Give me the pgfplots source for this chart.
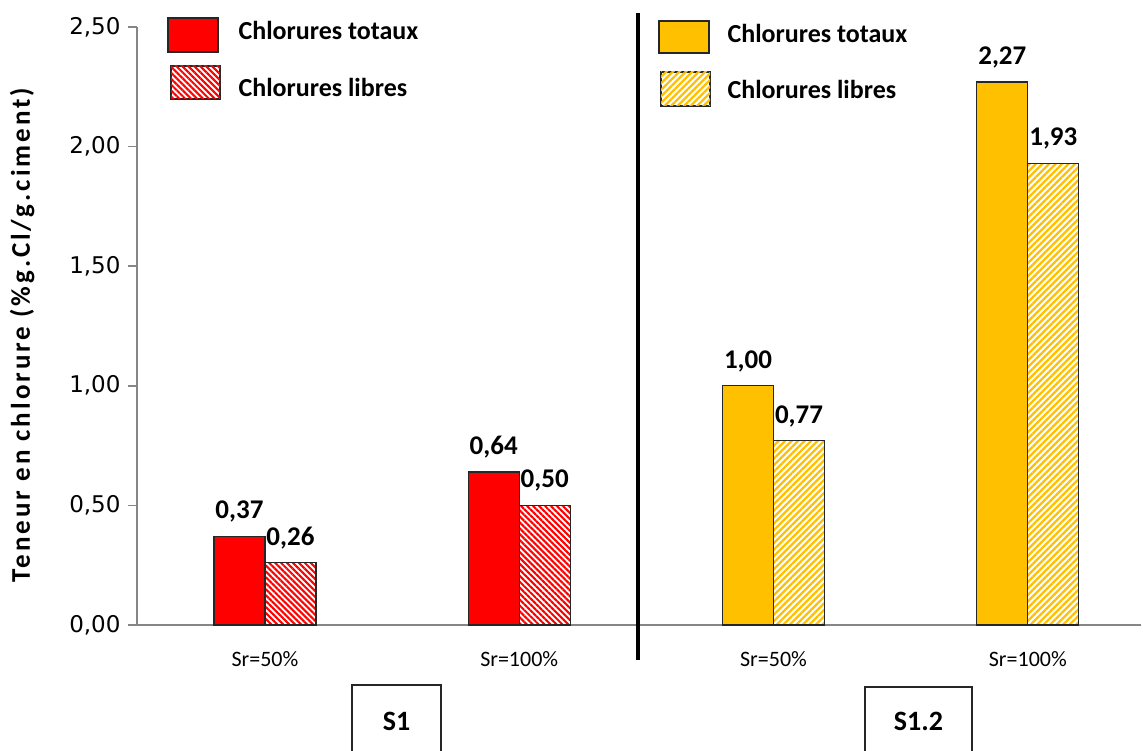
\documentclass[border=0pt]{standalone}
\usepackage{fontspec}
\setmainfont{Carlito}
\newfontfamily\tickfont{DejaVu Sans}
\usepackage{pgfplots}
\pgfplotsset{compat=1.18}
\usetikzlibrary{patterns.meta}

\definecolor{barred}{HTML}{FF0000}
\definecolor{baryellow}{HTML}{FFC000}
\definecolor{axisgray}{HTML}{868686}
\definecolor{edge}{HTML}{262626}

% values (S1: x = 0,1 ; S1.2: x = 2,3)
\pgfplotstableread{
x   y
0   0.37
1   0.64
}\sItot
\pgfplotstableread{
x   y
0   0.26
1   0.50
}\sIlib
\pgfplotstableread{
x   y
2   1.00
3   2.27
}\sIItot
\pgfplotstableread{
x   y
2   0.77
3   1.93
}\sIIlib

\tikzset{
  hatchred/.style={fill=white, postaction={pattern={Lines[angle=-45, distance=4.2pt, line width=2.1pt]}, pattern color=barred}},
  hatchyellow/.style={fill=white, postaction={pattern={Lines[angle=45, distance=4.6pt, line width=2.3pt]}, pattern color=baryellow}},
}

\begin{document}
\begin{tikzpicture}[x=1pt,y=1pt]
\useasboundingbox (0,0) rectangle (1143,751);
\begin{axis}[
  at={(137pt,126pt)}, anchor=south west,
  scale only axis, width=1004pt, height=598pt,
  xmin=-0.503, xmax=3.445, ymin=0, ymax=2.5,
  axis x line*=bottom, axis y line*=left,
  axis line style={axisgray, line width=1.6pt, -},
  clip=false,
  xtick={0,1,2,3},
  xticklabels={Sr=50\%, Sr=100\%, Sr=50\%, Sr=100\%},
  x tick style={draw=none},
  x tick label style={font=\fontsize{22}{24}\selectfont, yshift=-14pt},
  ytick={0,0.5,1,1.5,2,2.5},
  y tick style={axisgray, line width=1.6pt},
  tick align=outside, major tick length=9pt,
  yticklabel={\tickfont\fontsize{23}{26}\selectfont\pgfmathprintnumber[fixed, fixed zerofill, precision=2, use comma, assume math mode=true]{\tick}},
  y tick label style={xshift=-4pt},
  ylabel={Teneur en chlorure (\%g.Cl/g.ciment)},
  ylabel style={at={(axis description cs:-0.1145,0.485)}, anchor=center, font=\bfseries\fontsize{27}{30}\selectfont\addfontfeature{LetterSpace=11}},
  ybar, bar width=51pt,
  nodes near coords,
  nodes near coords style={font=\bfseries\fontsize{27}{30}\selectfont, text=black, yshift=10pt,
    /pgf/number format/.cd, fixed, fixed zerofill, precision=2, use comma, assume math mode=true},
  every axis plot/.append style={draw=edge, line width=1.2pt},
]
\addplot[bar shift=-25.5pt, fill=barred] table {\sItot};
\addplot[bar shift=25.5pt, hatchred] table {\sIlib};
\addplot[bar shift=-25.5pt, fill=baryellow] table {\sIItot};
\addplot[bar shift=25.5pt, hatchyellow] table {\sIIlib};
% separator between the two series of samples
\draw[black, line width=4.5pt] (axis cs:1.467,2.557) -- (axis cs:1.467,-0.146);
\end{axis}

% legend for S1
\draw[edge, line width=1.3pt, fill=barred] (168,699) rectangle (218,733);
\draw[edge, line width=1.3pt, hatchred] (171,652) rectangle (220,685);
\node[anchor=west, font=\bfseries\fontsize{26}{28}\selectfont] at (235,721) {Chlorures totaux};
\node[anchor=west, font=\bfseries\fontsize{26}{28}\selectfont] at (235,664) {Chlorures libres};
% legend for S1.2
\draw[edge, line width=1.3pt, fill=baryellow] (659,698) rectangle (709,730);
\draw[edge, line width=1.3pt, hatchyellow] (661,645) rectangle (710,679);
\node[anchor=west, font=\bfseries\fontsize{26}{28}\selectfont] at (724,718) {Chlorures totaux};
\node[anchor=west, font=\bfseries\fontsize{26}{28}\selectfont] at (724,662) {Chlorures libres};

% sample labels
\draw[edge, line width=1.5pt] (352,-2) -- (352,66) -- (441,66) -- (441,-2);
\node[font=\bfseries\fontsize{28}{30}\selectfont] at (396.5,30) {S1};
\draw[edge, line width=1.5pt] (865,-2) -- (865,64) -- (972,64) -- (972,-2);
\node[font=\bfseries\fontsize{28}{30}\selectfont] at (918.5,30) {S1.2};
\end{tikzpicture}
\end{document}
